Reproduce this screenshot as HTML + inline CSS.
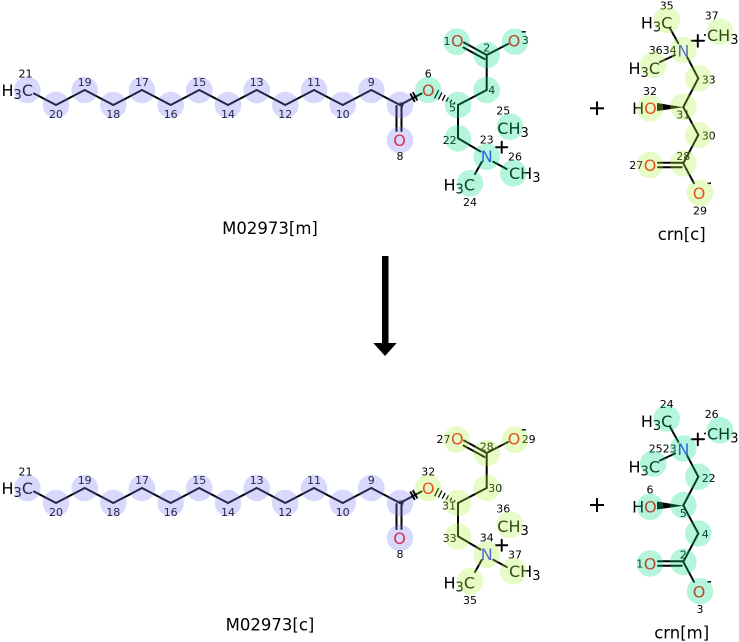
<!DOCTYPE html>
<html><head><meta charset="utf-8"><style>
html,body{margin:0;padding:0;background:#fff;}
svg{display:block;}
text{font-family:"DejaVu Sans","Liberation Sans",sans-serif;}
.a{font-size:16px;}
.n{font-size:11px;fill:#000;}
.O{fill:#ff0d0d;}
.N{fill:#3333ff;}
.b{stroke:#000;stroke-width:2;fill:none;stroke-linecap:round;}
.h{stroke:#000;stroke-width:1.3;}
.lav{fill:rgb(125,125,245);fill-opacity:.3;}
.mint{fill:rgb(5,222,138);fill-opacity:.3;}
.yel{fill:rgb(172,242,65);fill-opacity:.3;}
.lbl{font-size:16.5px;}
</style></head><body>
<svg width="739" height="642" viewBox="0 0 739 642" xmlns="http://www.w3.org/2000/svg">
<rect width="739" height="642" fill="#fff"/>

<!-- ================= TOP MAIN MOLECULE ================= -->
<g>
<polyline class="b" points="34,93.5 56,105 84.7,90 113.3,105 142,90 170.7,105 199.3,90 228,105 256.7,90 285.3,105 314,90 342.7,105 371.3,90 400,105"/>
<line class="b" x1="396.5" y1="106" x2="396.5" y2="131"/>
<line class="b" x1="401.5" y1="106" x2="401.5" y2="131"/>
<line class="b" x1="400" y1="105" x2="421.5" y2="93.5"/>
<line class="b" x1="410.6" y1="94.2" x2="414.4" y2="101.2"/>
<line class="b" x1="413.2" y1="92.8" x2="417" y2="99.8"/>
<g class="h">
<line x1="454.97" y1="102.13" x2="453.89" y2="104.27"/>
<line x1="451.72" y1="99.71" x2="450" y2="103.09"/>
<line x1="448.43" y1="97.37" x2="446.17" y2="101.83"/>
<line x1="445.17" y1="94.95" x2="442.29" y2="100.65"/>
<line x1="441.92" y1="92.52" x2="438.4" y2="99.48"/>
<line x1="438.67" y1="90.1" x2="434.53" y2="98.3"/>
</g>
<line class="b" x1="458" y1="105" x2="486.7" y2="90"/>
<line class="b" x1="486.7" y1="90" x2="486.7" y2="55"/>
<line class="b" x1="486.7" y1="55" x2="464" y2="42.5"/>
<line class="b" x1="484.5" y1="59" x2="463.5" y2="47.5"/>
<line class="b" x1="486.7" y1="55" x2="508" y2="44"/>
<line class="b" x1="458" y1="105" x2="458" y2="138.3"/>
<line class="b" x1="458" y1="138.3" x2="480.5" y2="151.5"/>
<line class="b" x1="481.7" y1="162" x2="475" y2="174"/>
<line class="b" x1="493.3" y1="161.7" x2="506.7" y2="169"/>
<line class="b" x1="496" y1="147.2" x2="507.3" y2="147.2"/>
<line class="b" x1="501.7" y1="141.7" x2="501.7" y2="152.7"/>
<rect x="521.7" y="31" width="4" height="1.6" fill="#000"/>

<text class="a" x="33" y="96" text-anchor="end">H<tspan font-size="13" dy="3">3</tspan><tspan dy="-3">C</tspan></text>
<text class="a O" x="428.3" y="96" text-anchor="middle">O</text>
<text class="a O" x="399.5" y="146" text-anchor="middle">O</text>
<text class="a O" x="457.3" y="46.5" text-anchor="middle">O</text>
<text class="a O" x="514" y="46.5" text-anchor="middle">O</text>
<text class="a N" x="486.7" y="162" text-anchor="middle">N</text>
<text class="a" x="497.3" y="134">CH<tspan font-size="13" dy="3">3</tspan></text>
<text class="a" x="509" y="179">CH<tspan font-size="13" dy="3">3</tspan></text>
<text class="a" x="475" y="190.5" text-anchor="end">H<tspan font-size="13" dy="3">3</tspan><tspan dy="-3">C</tspan></text>

<g class="n" text-anchor="middle">
<text x="25.5" y="77.5">21</text>
<text x="56" y="118">20</text>
<text x="84.7" y="86">19</text>
<text x="113.3" y="118">18</text>
<text x="142" y="86">17</text>
<text x="170.7" y="118">16</text>
<text x="199.3" y="86">15</text>
<text x="228" y="118">14</text>
<text x="256.7" y="86">13</text>
<text x="285.3" y="118">12</text>
<text x="314" y="86">11</text>
<text x="342.7" y="118">10</text>
<text x="371.3" y="86">9</text>
<text x="401.7" y="110.5">7</text>
<text x="400" y="160">8</text>
<text x="428.3" y="77.3">6</text>
<text x="486.7" y="51.7">2</text>
<text x="486.7" y="143.3">23</text>
<text x="503.3" y="114.3">25</text>
<text x="515" y="160.7">26</text>
<text x="470" y="206">24</text>
</g>
<text class="n" x="456" y="111.7" text-anchor="end">5</text>
<text class="n" x="456.7" y="144" text-anchor="end">22</text>
<text class="n" x="450.5" y="45" text-anchor="end">1</text>
<text class="n" x="488.3" y="94">4</text>
<text class="n" x="521.7" y="44">3</text>

<g class="lav">
<circle cx="27.3" cy="90" r="13.3"/><circle cx="56" cy="105" r="13.3"/><circle cx="84.7" cy="90" r="13.3"/>
<circle cx="113.3" cy="105" r="13.3"/><circle cx="142" cy="90" r="13.3"/><circle cx="170.7" cy="105" r="13.3"/>
<circle cx="199.3" cy="90" r="13.3"/><circle cx="228" cy="105" r="13.3"/><circle cx="256.7" cy="90" r="13.3"/>
<circle cx="285.3" cy="105" r="13.3"/><circle cx="314" cy="90" r="13.3"/><circle cx="342.7" cy="105" r="13.3"/>
<circle cx="371.3" cy="90" r="13.3"/><circle cx="400" cy="105" r="13.3"/><circle cx="400" cy="140" r="13.3"/>
</g>
<g class="mint">
<circle cx="428.3" cy="90" r="13.3"/><circle cx="458" cy="105" r="13.3"/><circle cx="486.7" cy="90" r="13.3"/>
<circle cx="486.7" cy="55" r="13.3"/><circle cx="456.7" cy="41.7" r="13.3"/><circle cx="515" cy="41.7" r="13.3"/>
<circle cx="458" cy="138.3" r="13.3"/><circle cx="486.7" cy="156.7" r="13.3"/><circle cx="510" cy="126.7" r="13.3"/>
<circle cx="513.3" cy="173.3" r="13.3"/><circle cx="470" cy="183.3" r="13.3"/>
</g>
</g>
<text class="lbl" x="270" y="234" text-anchor="middle">M02973[m]</text>

<!-- ================= TOP CRN ================= -->
<g>
<line class="b" x1="687.3" y1="57.3" x2="698.3" y2="78.3"/>
<line class="b" x1="698.3" y1="78.3" x2="683.3" y2="107"/>
<line class="b" x1="683.3" y1="107" x2="698.3" y2="135"/>
<line class="b" x1="698.3" y1="135" x2="683.3" y2="163.3"/>
<line class="b" x1="683.3" y1="162.7" x2="658" y2="162.7"/>
<line class="b" x1="681.7" y1="167.3" x2="658" y2="167.3"/>
<line class="b" x1="683.3" y1="163.3" x2="694" y2="183.3"/>
<line class="b" x1="678.3" y1="43.3" x2="670" y2="28.3"/>
<line class="b" x1="675" y1="55" x2="660" y2="62"/>
<polygon points="683.3,107.3 657,103 657,111" fill="#000"/>
<circle cx="705" cy="35" r="1" fill="#000"/>
<line class="b" x1="691.7" y1="40.8" x2="704" y2="40.8"/>
<line class="b" x1="697.8" y1="35" x2="697.8" y2="46.7"/>
<rect x="707.5" y="182.5" width="3.5" height="1.6" fill="#000"/>

<text class="a" x="672.3" y="28.5" text-anchor="end">H<tspan font-size="13" dy="3">3</tspan><tspan dy="-3">C</tspan></text>
<text class="a" x="707" y="40.8">CH<tspan font-size="13" dy="3">3</tspan></text>
<text class="a" x="660" y="74" text-anchor="end">H<tspan font-size="13" dy="3">3</tspan><tspan dy="-3">C</tspan></text>
<text class="a N" x="683.3" y="56.5" text-anchor="middle">N</text>
<text class="a" x="656.7" y="114" text-anchor="end">H<tspan class="O">O</tspan></text>
<text class="a O" x="650" y="171" text-anchor="middle">O</text>
<text class="a O" x="699" y="199" text-anchor="middle">O</text>

<g class="n" text-anchor="middle">
<text x="666.7" y="9.3">35</text>
<text x="711.7" y="19.3">37</text>
<text x="650" y="95">32</text>
<text x="683.3" y="118.7">31</text>
<text x="683.3" y="160">28</text>
<text x="700" y="214.3">29</text>
</g>
<text class="n" x="676.7" y="54" text-anchor="end">3634</text>
<text class="n" x="701.7" y="83.3">33</text>
<text class="n" x="701.7" y="139.3">30</text>
<text class="n" x="643.3" y="169" text-anchor="end">27</text>

<g class="yel">
<circle cx="666.7" cy="20" r="13.3"/><circle cx="720" cy="31.7" r="13.3"/><circle cx="683.3" cy="50" r="13.3"/>
<circle cx="653.3" cy="65" r="13.3"/><circle cx="698.3" cy="78.3" r="13.3"/><circle cx="683.3" cy="106.7" r="13.3"/>
<circle cx="650" cy="108.3" r="13.3"/><circle cx="698.3" cy="135" r="13.3"/><circle cx="683.3" cy="163.3" r="13.3"/>
<circle cx="650" cy="165" r="13.3"/><circle cx="700" cy="192.7" r="13.3"/>
</g>
</g>
<text class="lbl" x="681.7" y="240" text-anchor="middle">crn[c]</text>

<!-- plus signs -->
<line x1="590" y1="108.3" x2="604" y2="108.3" stroke="#000" stroke-width="2"/>
<line x1="597" y1="101.5" x2="597" y2="115" stroke="#000" stroke-width="2"/>
<line x1="590" y1="505" x2="604" y2="505" stroke="#000" stroke-width="2"/>
<line x1="597" y1="498" x2="597" y2="512" stroke="#000" stroke-width="2"/>

<!-- arrow -->
<rect x="382" y="256" width="6.5" height="88" fill="#000"/>
<polygon points="373.3,343 396.7,343 385,356" fill="#000"/>

<!-- ================= BOTTOM MAIN MOLECULE ================= -->
<g transform="translate(0,398)">
<polyline class="b" points="34,93.5 56,105 84.7,90 113.3,105 142,90 170.7,105 199.3,90 228,105 256.7,90 285.3,105 314,90 342.7,105 371.3,90 400,105"/>
<line class="b" x1="396.5" y1="106" x2="396.5" y2="131"/>
<line class="b" x1="401.5" y1="106" x2="401.5" y2="131"/>
<line class="b" x1="400" y1="105" x2="421.5" y2="93.5"/>
<line class="b" x1="410.6" y1="94.2" x2="414.4" y2="101.2"/>
<line class="b" x1="413.2" y1="92.8" x2="417" y2="99.8"/>
<g class="h">
<line x1="454.97" y1="102.13" x2="453.89" y2="104.27"/>
<line x1="451.72" y1="99.71" x2="450" y2="103.09"/>
<line x1="448.43" y1="97.37" x2="446.17" y2="101.83"/>
<line x1="445.17" y1="94.95" x2="442.29" y2="100.65"/>
<line x1="441.92" y1="92.52" x2="438.4" y2="99.48"/>
<line x1="438.67" y1="90.1" x2="434.53" y2="98.3"/>
</g>
<line class="b" x1="458" y1="105" x2="486.7" y2="90"/>
<line class="b" x1="486.7" y1="90" x2="486.7" y2="55"/>
<line class="b" x1="486.7" y1="55" x2="464" y2="42.5"/>
<line class="b" x1="484.5" y1="59" x2="463.5" y2="47.5"/>
<line class="b" x1="486.7" y1="55" x2="508" y2="44"/>
<line class="b" x1="458" y1="105" x2="458" y2="138.3"/>
<line class="b" x1="458" y1="138.3" x2="480.5" y2="151.5"/>
<line class="b" x1="481.7" y1="162" x2="475" y2="174"/>
<line class="b" x1="493.3" y1="161.7" x2="506.7" y2="169"/>
<line class="b" x1="496" y1="147.2" x2="507.3" y2="147.2"/>
<line class="b" x1="501.7" y1="141.7" x2="501.7" y2="152.7"/>
<rect x="521.7" y="31" width="4" height="1.6" fill="#000"/>

<text class="a" x="33" y="96" text-anchor="end">H<tspan font-size="13" dy="3">3</tspan><tspan dy="-3">C</tspan></text>
<text class="a O" x="428.3" y="96" text-anchor="middle">O</text>
<text class="a O" x="399.5" y="146" text-anchor="middle">O</text>
<text class="a O" x="457.3" y="46.5" text-anchor="middle">O</text>
<text class="a O" x="514" y="46.5" text-anchor="middle">O</text>
<text class="a N" x="486.7" y="162" text-anchor="middle">N</text>
<text class="a" x="497.3" y="134">CH<tspan font-size="13" dy="3">3</tspan></text>
<text class="a" x="509" y="179">CH<tspan font-size="13" dy="3">3</tspan></text>
<text class="a" x="475" y="190.5" text-anchor="end">H<tspan font-size="13" dy="3">3</tspan><tspan dy="-3">C</tspan></text>

<g class="n" text-anchor="middle">
<text x="25.5" y="77.5">21</text>
<text x="56" y="118">20</text>
<text x="84.7" y="86">19</text>
<text x="113.3" y="118">18</text>
<text x="142" y="86">17</text>
<text x="170.7" y="118">16</text>
<text x="199.3" y="86">15</text>
<text x="228" y="118">14</text>
<text x="256.7" y="86">13</text>
<text x="285.3" y="118">12</text>
<text x="314" y="86">11</text>
<text x="342.7" y="118">10</text>
<text x="371.3" y="86">9</text>
<text x="401.7" y="110.5">7</text>
<text x="400" y="160">8</text>
<text x="428.3" y="77.3">32</text>
<text x="486.7" y="52.5">28</text>
<text x="486.7" y="143.3">34</text>
<text x="503.3" y="114.3">36</text>
<text x="515" y="160.7">37</text>
<text x="470" y="206">35</text>
</g>
<text class="n" x="456" y="111.7" text-anchor="end">31</text>
<text class="n" x="456.7" y="144" text-anchor="end">33</text>
<text class="n" x="450.5" y="45" text-anchor="end">27</text>
<text class="n" x="488.3" y="94">30</text>
<text class="n" x="521.7" y="45">29</text>

<g class="lav">
<circle cx="27.3" cy="90" r="13.3"/><circle cx="56" cy="105" r="13.3"/><circle cx="84.7" cy="90" r="13.3"/>
<circle cx="113.3" cy="105" r="13.3"/><circle cx="142" cy="90" r="13.3"/><circle cx="170.7" cy="105" r="13.3"/>
<circle cx="199.3" cy="90" r="13.3"/><circle cx="228" cy="105" r="13.3"/><circle cx="256.7" cy="90" r="13.3"/>
<circle cx="285.3" cy="105" r="13.3"/><circle cx="314" cy="90" r="13.3"/><circle cx="342.7" cy="105" r="13.3"/>
<circle cx="371.3" cy="90" r="13.3"/><circle cx="400" cy="105" r="13.3"/><circle cx="400" cy="140" r="13.3"/>
</g>
<g class="yel">
<circle cx="428.3" cy="90" r="13.3"/><circle cx="458" cy="105" r="13.3"/><circle cx="486.7" cy="90" r="13.3"/>
<circle cx="486.7" cy="55" r="13.3"/><circle cx="456.7" cy="41.7" r="13.3"/><circle cx="515" cy="41.7" r="13.3"/>
<circle cx="458" cy="138.3" r="13.3"/><circle cx="486.7" cy="156.7" r="13.3"/><circle cx="510" cy="126.7" r="13.3"/>
<circle cx="513.3" cy="173.3" r="13.3"/><circle cx="470" cy="183.3" r="13.3"/>
</g>
</g>
<text class="lbl" x="270" y="630.5" text-anchor="middle">M02973[c]</text>

<!-- ================= BOTTOM CRN ================= -->
<g transform="translate(0,398.5)">
<line class="b" x1="687.3" y1="57.3" x2="698.3" y2="78.3"/>
<line class="b" x1="698.3" y1="78.3" x2="683.3" y2="107"/>
<line class="b" x1="683.3" y1="107" x2="698.3" y2="135"/>
<line class="b" x1="698.3" y1="135" x2="683.3" y2="163.3"/>
<line class="b" x1="683.3" y1="162.7" x2="658" y2="162.7"/>
<line class="b" x1="681.7" y1="167.3" x2="658" y2="167.3"/>
<line class="b" x1="683.3" y1="163.3" x2="694" y2="183.3"/>
<line class="b" x1="678.3" y1="43.3" x2="670" y2="28.3"/>
<line class="b" x1="675" y1="55" x2="660" y2="62"/>
<polygon points="683.3,107.3 657,103 657,111" fill="#000"/>
<circle cx="705" cy="35" r="1" fill="#000"/>
<line class="b" x1="691.7" y1="40.8" x2="704" y2="40.8"/>
<line class="b" x1="697.8" y1="35" x2="697.8" y2="46.7"/>
<rect x="707.5" y="182.5" width="3.5" height="1.6" fill="#000"/>

<text class="a" x="672.3" y="28.5" text-anchor="end">H<tspan font-size="13" dy="3">3</tspan><tspan dy="-3">C</tspan></text>
<text class="a" x="707" y="40.8">CH<tspan font-size="13" dy="3">3</tspan></text>
<text class="a" x="660" y="74" text-anchor="end">H<tspan font-size="13" dy="3">3</tspan><tspan dy="-3">C</tspan></text>
<text class="a N" x="683.3" y="56.5" text-anchor="middle">N</text>
<text class="a" x="656.7" y="114" text-anchor="end">H<tspan class="O">O</tspan></text>
<text class="a O" x="650" y="171" text-anchor="middle">O</text>
<text class="a O" x="699" y="199" text-anchor="middle">O</text>

<g class="n" text-anchor="middle">
<text x="666.7" y="9.3">24</text>
<text x="711.7" y="19.3">26</text>
<text x="650" y="95">6</text>
<text x="683.3" y="118.7">5</text>
<text x="683.3" y="160">2</text>
<text x="700" y="214.3">3</text>
</g>
<text class="n" x="676.7" y="54" text-anchor="end">2523</text>
<text class="n" x="701.7" y="83.3">22</text>
<text class="n" x="701.7" y="139.3">4</text>
<text class="n" x="643.3" y="169" text-anchor="end">1</text>

<g class="mint">
<circle cx="666.7" cy="20" r="13.3"/><circle cx="720" cy="31.7" r="13.3"/><circle cx="683.3" cy="50" r="13.3"/>
<circle cx="653.3" cy="65" r="13.3"/><circle cx="698.3" cy="78.3" r="13.3"/><circle cx="683.3" cy="106.7" r="13.3"/>
<circle cx="650" cy="108.3" r="13.3"/><circle cx="698.3" cy="135" r="13.3"/><circle cx="683.3" cy="163.3" r="13.3"/>
<circle cx="650" cy="165" r="13.3"/><circle cx="700" cy="192.7" r="13.3"/>
</g>
</g>
<text class="lbl" x="681.7" y="638.5" text-anchor="middle">crn[m]</text>
</svg>
</body></html>
